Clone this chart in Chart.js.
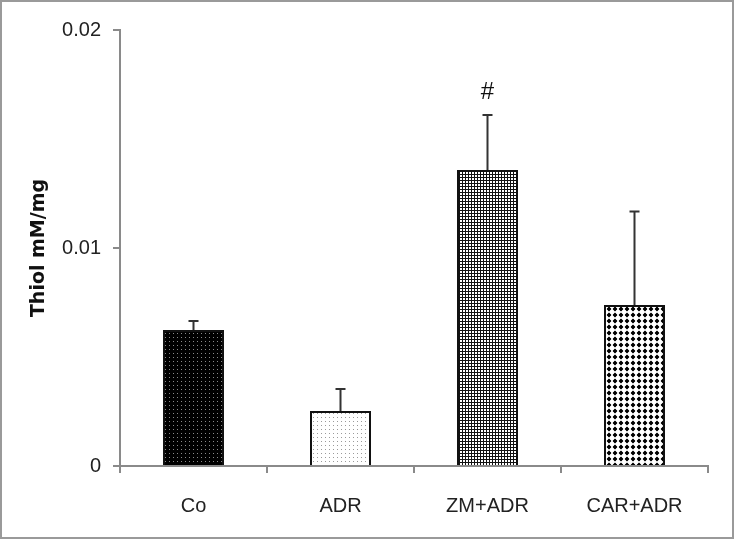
<!DOCTYPE html>
<html>
<head>
<meta charset="utf-8">
<script src="https://cdn.jsdelivr.net/npm/chart.js@4"></script>
<style>
  html, body { margin: 0; padding: 0; background: #fff; }
  canvas { display: block; }
</style>
</head>
<body>
<canvas id="thiol" width="735" height="540"></canvas>
<script>
// values (mean + upper SD bar)
const groups = ['Co', 'ADR', 'ZM+ADR', 'CAR+ADR']
const thiolMeans = [0.00624, 0.00252, 0.01358, 0.00739]
const thiolErrors = [0.00041, 0.00101, 0.00252, 0.00428]
const marks = ['', '', '#', '']
const yTicks = [0, 0.01, 0.02]

const tickFont = { family: '"Liberation Sans Narrow", "Liberation Sans", sans-serif', size: 20 }

const makePattern = (ctx, size, draw) => {
  const c = document.createElement('canvas')
  c.width = size
  c.height = size
  const g = c.getContext('2d')
  draw(g, size)
  return ctx.createPattern(c, 'repeat')
}

const onPageLoad = () => {
  const canvas = document.getElementById('thiol')
  const ctx = canvas.getContext('2d')

  // fills that imitate the excel pattern fills
  const fills = [
    makePattern(ctx, 4, (g) => {
      g.fillStyle = '#000'
      g.fillRect(0, 0, 4, 4)
      g.fillStyle = '#8a8a8a'
      g.fillRect(1, 1, 1, 1)
    }),
    makePattern(ctx, 4, (g) => {
      g.fillStyle = '#fff'
      g.fillRect(0, 0, 4, 4)
      g.fillStyle = '#9a9a9a'
      g.fillRect(1, 1, 1, 1)
    }),
    makePattern(ctx, 3, (g) => {
      g.fillStyle = '#111'
      g.fillRect(0, 0, 3, 3)
      g.fillStyle = '#fff'
      g.fillRect(1, 1, 2, 2)
    }),
    makePattern(ctx, 6, (g) => {
      g.fillStyle = '#fff'
      g.fillRect(0, 0, 6, 6)
      g.fillStyle = '#000'
      g.beginPath()
      g.moveTo(3, 0.6)
      g.lineTo(5.4, 3)
      g.lineTo(3, 5.4)
      g.lineTo(0.6, 3)
      g.closePath()
      g.fill()
      g.fillRect(2, 1.5, 2, 3)
      g.fillRect(1.5, 2, 3, 2)
    }),
  ]

  const frame = {
    id: 'frame',
    beforeDraw: (chart) => {
      const c = chart.ctx
      c.save()
      c.fillStyle = '#fff'
      c.fillRect(0, 0, chart.width, chart.height)
      c.restore()
    },
    afterDraw: (chart) => {
      const c = chart.ctx
      c.save()
      c.strokeStyle = '#9a9a9a'
      c.lineWidth = 2
      c.strokeRect(1, 1, chart.width - 3, chart.height - 3)
      c.restore()
    },
  }

  const errorBars = {
    id: 'errorBars',
    afterDatasetsDraw: (chart) => {
      const c = chart.ctx
      const y = chart.scales.y
      const meta = chart.getDatasetMeta(0)
      c.save()
      c.strokeStyle = '#333'
      c.lineWidth = 2
      meta.data.forEach((bar, i) => {
        const top = y.getPixelForValue(thiolMeans[i] + thiolErrors[i])
        c.beginPath()
        c.moveTo(bar.x, bar.y)
        c.lineTo(bar.x, top)
        c.moveTo(bar.x - 5, top)
        c.lineTo(bar.x + 5, top)
        c.stroke()
        if (marks[i]) {
          c.fillStyle = '#111'
          c.font = '24px ' + tickFont.family
          c.textAlign = 'center'
          c.textBaseline = 'middle'
          c.fillText(marks[i], bar.x, top - 23)
        }
      })
      c.restore()
    },
  }

  new Chart(canvas, {
    type: 'bar',
    data: {
      labels: groups,
      datasets: [
        {
          data: thiolMeans,
          backgroundColor: fills,
          borderColor: '#111',
          borderWidth: 2,
          barPercentage: 0.415,
          categoryPercentage: 1,
        },
      ],
    },
    options: {
      responsive: false,
      animation: false,
      layout: { padding: { left: 2, right: 27, top: 30, bottom: 0 } },
      plugins: {
        legend: { display: false },
        tooltip: { enabled: false },
      },
      scales: {
        x: {
          afterFit: (s) => { s.height = 74 },
          border: { color: '#8a8a8a', width: 2 },
          grid: { display: true, drawOnChartArea: false, offset: true, tickLength: 7, color: '#8a8a8a', lineWidth: 2 },
          ticks: { color: '#222', font: tickFont, padding: 21 },
        },
        y: {
          min: 0,
          max: 0.02,
          afterFit: (s) => { s.width = 118 },
          afterBuildTicks: (s) => { s.ticks = yTicks.map((v) => ({ value: v })) },
          border: { color: '#8a8a8a', width: 2 },
          grid: { display: true, drawOnChartArea: false, tickLength: 7, color: '#8a8a8a', lineWidth: 2 },
          ticks: { color: '#222', font: tickFont, padding: 12, callback: (v) => String(v) },
          title: {
            display: true,
            text: 'Thiol mM/mg',
            color: '#111',
            font: { family: '"DejaVu Sans", sans-serif', size: 19, weight: 'bold' },
            padding: { top: 26, bottom: 0 },
          },
        },
      },
    },
    plugins: [frame, errorBars],
  })
}

document.addEventListener('DOMContentLoaded', onPageLoad)
</script>
</body>
</html>
